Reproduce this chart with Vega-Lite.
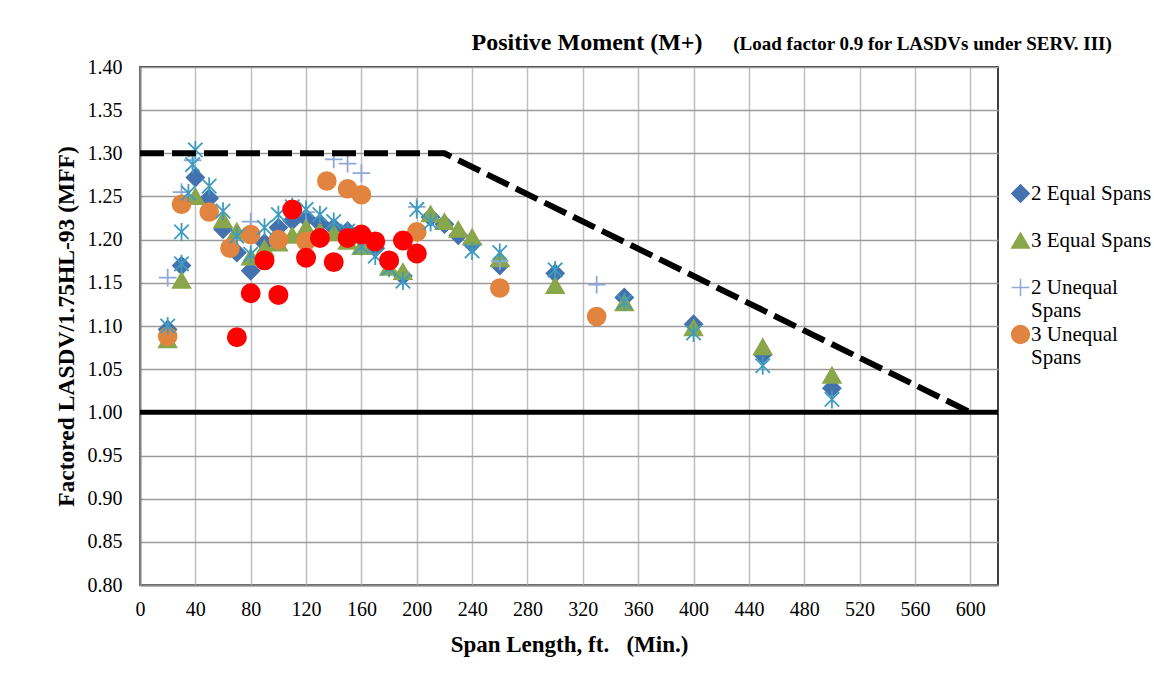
{
  "$schema": "https://vega.github.io/schema/vega-lite/v6.json",
  "width": 858,
  "height": 518,
  "autosize": {"type": "none"},
  "padding": {"left": 140, "top": 67, "right": 156, "bottom": 89},
  "background": "white",
  "title": {
    "text": "Positive Moment (M+)",
    "font": "Liberation Serif",
    "fontSize": 24,
    "fontWeight": "bold",
    "color": "black",
    "anchor": "middle",
    "frame": "group",
    "dx": 18,
    "dy": 37,
    "offset": 16
  },
  "config": {
    "view": {"stroke": "black", "strokeWidth": 1.5},
    "axis": {
      "labelFont": "Liberation Serif",
      "labelFontSize": 20,
      "labelColor": "black",
      "titleFont": "Liberation Serif",
      "titleFontWeight": "bold",
      "titleColor": "black",
      "ticks": false,
      "domainColor": "#868686",
      "domainWidth": 2
    },
    "legend": {
      "labelFont": "Liberation Serif",
      "labelFontSize": 21,
      "labelColor": "black"
    }
  },
  "datasets": {
    "points": [
      {"span": 20, "mff": 1.096, "series": "2 Equal Spans"},
      {"span": 30, "mff": 1.170, "series": "2 Equal Spans"},
      {"span": 40, "mff": 1.272, "series": "2 Equal Spans"},
      {"span": 50, "mff": 1.248, "series": "2 Equal Spans"},
      {"span": 60, "mff": 1.212, "series": "2 Equal Spans"},
      {"span": 70, "mff": 1.185, "series": "2 Equal Spans"},
      {"span": 80, "mff": 1.164, "series": "2 Equal Spans"},
      {"span": 90, "mff": 1.196, "series": "2 Equal Spans"},
      {"span": 100, "mff": 1.214, "series": "2 Equal Spans"},
      {"span": 110, "mff": 1.222, "series": "2 Equal Spans"},
      {"span": 120, "mff": 1.225, "series": "2 Equal Spans"},
      {"span": 130, "mff": 1.219, "series": "2 Equal Spans"},
      {"span": 140, "mff": 1.214, "series": "2 Equal Spans"},
      {"span": 150, "mff": 1.210, "series": "2 Equal Spans"},
      {"span": 160, "mff": 1.204, "series": "2 Equal Spans"},
      {"span": 170, "mff": 1.190, "series": "2 Equal Spans"},
      {"span": 180, "mff": 1.172, "series": "2 Equal Spans"},
      {"span": 190, "mff": 1.158, "series": "2 Equal Spans"},
      {"span": 210, "mff": 1.226, "series": "2 Equal Spans"},
      {"span": 220, "mff": 1.218, "series": "2 Equal Spans"},
      {"span": 230, "mff": 1.205, "series": "2 Equal Spans"},
      {"span": 240, "mff": 1.195, "series": "2 Equal Spans"},
      {"span": 260, "mff": 1.170, "series": "2 Equal Spans"},
      {"span": 300, "mff": 1.161, "series": "2 Equal Spans"},
      {"span": 350, "mff": 1.133, "series": "2 Equal Spans"},
      {"span": 400, "mff": 1.102, "series": "2 Equal Spans"},
      {"span": 450, "mff": 1.067, "series": "2 Equal Spans"},
      {"span": 500, "mff": 1.028, "series": "2 Equal Spans"},

      {"span": 20, "mff": 1.084, "series": "3 Equal Spans"},
      {"span": 30, "mff": 1.153, "series": "3 Equal Spans"},
      {"span": 40, "mff": 1.250, "series": "3 Equal Spans"},
      {"span": 60, "mff": 1.223, "series": "3 Equal Spans"},
      {"span": 70, "mff": 1.210, "series": "3 Equal Spans"},
      {"span": 80, "mff": 1.180, "series": "3 Equal Spans"},
      {"span": 90, "mff": 1.190, "series": "3 Equal Spans"},
      {"span": 100, "mff": 1.196, "series": "3 Equal Spans"},
      {"span": 110, "mff": 1.205, "series": "3 Equal Spans"},
      {"span": 120, "mff": 1.214, "series": "3 Equal Spans"},
      {"span": 130, "mff": 1.210, "series": "3 Equal Spans"},
      {"span": 140, "mff": 1.208, "series": "3 Equal Spans"},
      {"span": 150, "mff": 1.198, "series": "3 Equal Spans"},
      {"span": 160, "mff": 1.192, "series": "3 Equal Spans"},
      {"span": 180, "mff": 1.168, "series": "3 Equal Spans"},
      {"span": 190, "mff": 1.163, "series": "3 Equal Spans"},
      {"span": 210, "mff": 1.230, "series": "3 Equal Spans"},
      {"span": 220, "mff": 1.221, "series": "3 Equal Spans"},
      {"span": 230, "mff": 1.212, "series": "3 Equal Spans"},
      {"span": 240, "mff": 1.203, "series": "3 Equal Spans"},
      {"span": 260, "mff": 1.178, "series": "3 Equal Spans"},
      {"span": 300, "mff": 1.147, "series": "3 Equal Spans"},
      {"span": 350, "mff": 1.127, "series": "3 Equal Spans"},
      {"span": 400, "mff": 1.098, "series": "3 Equal Spans"},
      {"span": 450, "mff": 1.076, "series": "3 Equal Spans"},
      {"span": 500, "mff": 1.043, "series": "3 Equal Spans"},

      {"span": 20, "mff": 1.156, "series": "2 Unequal Spans"},
      {"span": 30, "mff": 1.255, "series": "2 Unequal Spans"},
      {"span": 38, "mff": 1.292, "series": "2 Unequal Spans"},
      {"span": 80, "mff": 1.221, "series": "2 Unequal Spans"},
      {"span": 120, "mff": 1.232, "series": "2 Unequal Spans"},
      {"span": 140, "mff": 1.293, "series": "2 Unequal Spans"},
      {"span": 150, "mff": 1.288, "series": "2 Unequal Spans"},
      {"span": 160, "mff": 1.277, "series": "2 Unequal Spans"},
      {"span": 200, "mff": 1.238, "series": "2 Unequal Spans"},
      {"span": 260, "mff": 1.175, "series": "2 Unequal Spans"},
      {"span": 330, "mff": 1.148, "series": "2 Unequal Spans"},

      {"span": 20, "mff": 1.088, "series": "3 Unequal Spans"},
      {"span": 30, "mff": 1.241, "series": "3 Unequal Spans"},
      {"span": 50, "mff": 1.232, "series": "3 Unequal Spans"},
      {"span": 65, "mff": 1.190, "series": "3 Unequal Spans"},
      {"span": 80, "mff": 1.206, "series": "3 Unequal Spans"},
      {"span": 100, "mff": 1.200, "series": "3 Unequal Spans"},
      {"span": 120, "mff": 1.198, "series": "3 Unequal Spans"},
      {"span": 135, "mff": 1.268, "series": "3 Unequal Spans"},
      {"span": 150, "mff": 1.259, "series": "3 Unequal Spans"},
      {"span": 160, "mff": 1.252, "series": "3 Unequal Spans"},
      {"span": 200, "mff": 1.209, "series": "3 Unequal Spans"},
      {"span": 260, "mff": 1.144, "series": "3 Unequal Spans"},
      {"span": 330, "mff": 1.111, "series": "3 Unequal Spans"},

      {"span": 20, "mff": 1.100, "series": "Series 5"},
      {"span": 30, "mff": 1.209, "series": "Series 5"},
      {"span": 30, "mff": 1.172, "series": "Series 5"},
      {"span": 35, "mff": 1.254, "series": "Series 5"},
      {"span": 38, "mff": 1.287, "series": "Series 5"},
      {"span": 40, "mff": 1.304, "series": "Series 5"},
      {"span": 50, "mff": 1.262, "series": "Series 5"},
      {"span": 60, "mff": 1.233, "series": "Series 5"},
      {"span": 70, "mff": 1.204, "series": "Series 5"},
      {"span": 80, "mff": 1.183, "series": "Series 5"},
      {"span": 90, "mff": 1.214, "series": "Series 5"},
      {"span": 100, "mff": 1.229, "series": "Series 5"},
      {"span": 110, "mff": 1.238, "series": "Series 5"},
      {"span": 120, "mff": 1.235, "series": "Series 5"},
      {"span": 130, "mff": 1.229, "series": "Series 5"},
      {"span": 140, "mff": 1.221, "series": "Series 5"},
      {"span": 150, "mff": 1.210, "series": "Series 5"},
      {"span": 160, "mff": 1.192, "series": "Series 5"},
      {"span": 170, "mff": 1.181, "series": "Series 5"},
      {"span": 180, "mff": 1.167, "series": "Series 5"},
      {"span": 190, "mff": 1.152, "series": "Series 5"},
      {"span": 200, "mff": 1.235, "series": "Series 5"},
      {"span": 210, "mff": 1.220, "series": "Series 5"},
      {"span": 240, "mff": 1.187, "series": "Series 5"},
      {"span": 260, "mff": 1.185, "series": "Series 5"},
      {"span": 300, "mff": 1.165, "series": "Series 5"},
      {"span": 350, "mff": 1.128, "series": "Series 5"},
      {"span": 400, "mff": 1.092, "series": "Series 5"},
      {"span": 450, "mff": 1.054, "series": "Series 5"},
      {"span": 500, "mff": 1.015, "series": "Series 5"},

      {"span": 70, "mff": 1.087, "series": "Series 6"},
      {"span": 80, "mff": 1.138, "series": "Series 6"},
      {"span": 90, "mff": 1.176, "series": "Series 6"},
      {"span": 100, "mff": 1.136, "series": "Series 6"},
      {"span": 110, "mff": 1.235, "series": "Series 6"},
      {"span": 120, "mff": 1.179, "series": "Series 6"},
      {"span": 130, "mff": 1.202, "series": "Series 6"},
      {"span": 140, "mff": 1.174, "series": "Series 6"},
      {"span": 150, "mff": 1.202, "series": "Series 6"},
      {"span": 160, "mff": 1.206, "series": "Series 6"},
      {"span": 170, "mff": 1.198, "series": "Series 6"},
      {"span": 180, "mff": 1.176, "series": "Series 6"},
      {"span": 190, "mff": 1.199, "series": "Series 6"},
      {"span": 200, "mff": 1.184, "series": "Series 6"}
    ],
    "limit": [
      {"span": 0, "mff": 1.30},
      {"span": 220, "mff": 1.30},
      {"span": 600, "mff": 1.00}
    ],
    "baseline": [
      {"mff": 1.00}
    ]
  },
  "resolve": {"axis": {"x": "independent"}},
  "layer": [
    {
      "data": {"name": "points"},
      "mark": {"type": "point", "filled": true, "opacity": 1, "strokeWidth": 1.8},
      "encoding": {
        "x": {
          "field": "span", "type": "quantitative",
          "scale": {"domain": [0, 620], "nice": false, "zero": false},
          "axis": {
            "values": [0, 40, 80, 120, 160, 200, 240, 280, 320, 360, 400, 440, 480, 520, 560, 600],
            "grid": true, "gridColor": "#BFBFBF", "gridWidth": 1.5,
            "labelPadding": 14, "labelFlush": false,
            "title": "Span Length, ft.\u00a0\u00a0\u00a0(Min.)",
            "titleFontSize": 23, "titlePadding": 14
          }
        },
        "y": {
          "field": "mff", "type": "quantitative",
          "scale": {"domain": [0.8, 1.4], "nice": false, "zero": false},
          "axis": {
            "values": [0.8, 0.85, 0.9, 0.95, 1.0, 1.05, 1.1, 1.15, 1.2, 1.25, 1.3, 1.35, 1.4],
            "format": ".2f",
            "grid": true, "gridColor": "#9A9A9A", "gridWidth": 1.5,
            "labelPadding": 18, "labelFlush": false,
            "title": "Factored LASDV/1.75HL-93 (MFF)",
            "titleFontSize": 23.5, "titlePadding": 9
          }
        },
        "color": {
          "field": "series", "type": "nominal",
          "scale": {
            "domain": ["2 Equal Spans", "3 Equal Spans", "2 Unequal Spans", "3 Unequal Spans", "Series 5", "Series 6"],
            "range": ["#4472AE", "#8AA64A", "#8EA9D8", "#E0843F", "#3E9CC0", "#FF0000"]
          },
          "legend": {
            "values": ["2 Equal Spans", "3 Equal Spans", "2 Unequal Spans", "3 Unequal Spans"],
            "title": null,
            "orient": "none",
            "legendX": 870,
            "legendY": 116,
            "symbolSize": 110,
            "symbolStrokeWidth": 1.5,
            "labelOffset": 0,
            "rowPadding": 1,
            "gridAlign": "all",
            "labelExpr": "datum.label == '2 Unequal Spans' ? ['2 Unequal', 'Spans'] : datum.label == '3 Unequal Spans' ? ['3 Unequal', 'Spans'] : datum.label",
            "labelLimit": 300
          }
        },
        "stroke": {
          "field": "series", "type": "nominal",
          "scale": {
            "domain": ["2 Equal Spans", "3 Equal Spans", "2 Unequal Spans", "3 Unequal Spans", "Series 5", "Series 6"],
            "range": ["#4472AE", "#8AA64A", "#8EA9D8", "#E0843F", "#3E9CC0", "#FF0000"]
          },
          "legend": {
            "values": ["2 Equal Spans", "3 Equal Spans", "2 Unequal Spans", "3 Unequal Spans"],
            "title": null,
            "orient": "none",
            "legendX": 870,
            "legendY": 116,
            "symbolSize": 110,
            "symbolStrokeWidth": 1.5,
            "labelOffset": 0,
            "rowPadding": 1,
            "gridAlign": "all",
            "labelExpr": "datum.label == '2 Unequal Spans' ? ['2 Unequal', 'Spans'] : datum.label == '3 Unequal Spans' ? ['3 Unequal', 'Spans'] : datum.label",
            "labelLimit": 300
          }
        },
        "shape": {
          "field": "series", "type": "nominal",
          "scale": {
            "domain": ["2 Equal Spans", "3 Equal Spans", "2 Unequal Spans", "3 Unequal Spans", "Series 5", "Series 6"],
            "range": ["diamond", "triangle-up", "M-1,0H1M0,-1V1", "circle", "M-0.8,-0.8L0.8,0.8M-0.8,0.8L0.8,-0.8M0,-1V1", "circle"]
          },
          "legend": {
            "values": ["2 Equal Spans", "3 Equal Spans", "2 Unequal Spans", "3 Unequal Spans"],
            "title": null,
            "orient": "none",
            "legendX": 870,
            "legendY": 116,
            "symbolSize": 110,
            "symbolStrokeWidth": 1.5,
            "labelOffset": 0,
            "rowPadding": 1,
            "gridAlign": "all",
            "labelExpr": "datum.label == '2 Unequal Spans' ? ['2 Unequal', 'Spans'] : datum.label == '3 Unequal Spans' ? ['3 Unequal', 'Spans'] : datum.label",
            "labelLimit": 300
          }
        },
        "size": {
          "field": "series", "type": "nominal",
          "scale": {
            "domain": ["2 Equal Spans", "3 Equal Spans", "2 Unequal Spans", "3 Unequal Spans", "Series 5", "Series 6"],
            "range": [300, 330, 380, 400, 420, 370]
          },
          "legend": null
        }
      }
    },
    {
      "data": {"name": "baseline"},
      "mark": {"type": "rule", "color": "black", "strokeWidth": 5},
      "encoding": {
        "y": {"field": "mff", "type": "quantitative"}
      }
    },
    {
      "data": {"name": "limit"},
      "mark": {"type": "line", "color": "black", "strokeWidth": 6, "strokeDash": [24, 8]},
      "encoding": {
        "x": {
          "field": "span", "type": "quantitative",
          "axis": {
            "orient": "top", "labels": false, "ticks": false, "domain": false, "grid": false,
            "title": "(Load factor 0.9 for LASDVs under SERV. III)",
            "titleFontSize": 19,
            "titleX": 782, "titleY": -18, "titleAlign": "center", "titleBaseline": "alphabetic"
          }
        },
        "y": {"field": "mff", "type": "quantitative"}
      }
    }
  ]
}
